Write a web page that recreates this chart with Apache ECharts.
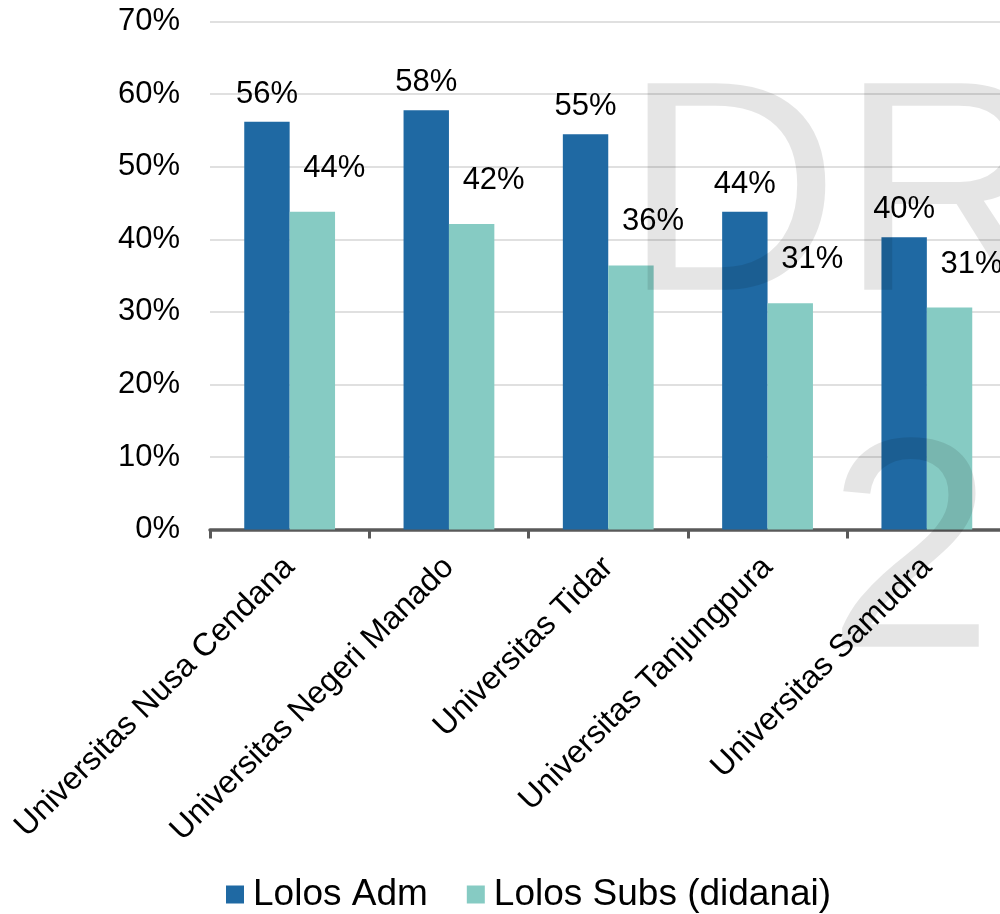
<!DOCTYPE html>
<html>
<head>
<meta charset="utf-8">
<script src="https://cdn.jsdelivr.net/npm/echarts@6/dist/echarts.min.js"></script>
<style>html,body{margin:0;padding:0;background:#fff;overflow:hidden;width:1000px;height:914px;}#c{width:1010px;height:914px;}</style>
</head>
<body>
<div id="c"></div>
<script>
var categories = ['Universitas Nusa Cendana', 'Universitas Negeri Manado', 'Universitas Tidar', 'Universitas Tanjungpura', 'Universitas Samudra'];
var seriesNames = ['Lolos Adm', 'Lolos Subs (didanai)'];
var lolosAdm = [56.2, 57.8, 54.5, 43.8, 40.3];
var lolosSubs = [43.8, 42.1, 36.4, 31.2, 30.6];
var yMin = 0, yMax = 70, yStep = 10;

var FONT = "'Liberation Sans', Arial, Helvetica, sans-serif";
var chart = echarts.init(document.getElementById('c'), null, {renderer: 'canvas'});
function pct(p) { return Math.round(p.value) + '%'; }
chart.setOption({
  animation: false,
  backgroundColor: '#fff',
  textStyle: {fontFamily: FONT},
  grid: {left: 210, top: 21.7, width: 796.5, height: 507.8, containLabel: false, outerBoundsMode: 'none'},
  legend: {
    data: seriesNames,
    left: 226, top: 876, padding: 0,
    icon: 'rect', itemWidth: 18, itemHeight: 18, itemGap: 39,
    textStyle: {fontSize: 37, color: '#000', fontFamily: FONT, padding: [0, 0, 0, 4]}
  },
  xAxis: {
    type: 'category',
    data: categories,
    axisLine: {lineStyle: {color: '#595959', width: 3.5}},
    axisTick: {show: true, length: 9, lineStyle: {color: '#595959', width: 3}, alignWithLabel: false},
    axisLabel: {rotate: 45, interval: 0, margin: 33, fontSize: 32, color: '#000', fontFamily: FONT}
  },
  yAxis: {
    type: 'value',
    min: yMin, max: yMax, interval: yStep,
    axisLine: {show: false}, axisTick: {show: false},
    splitLine: {lineStyle: {color: '#d6d6d6', width: 1.5}},
    axisLabel: {formatter: '{value}%', margin: 30, fontSize: 31, color: '#000', fontFamily: FONT}
  },
  series: [
    {
      name: seriesNames[0], type: 'bar', data: lolosAdm,
      barGap: '0%', barCategoryGap: '43%',
      itemStyle: {color: '#1f69a3'},
      label: {show: true, position: 'top', distance: 12, formatter: pct, fontSize: 31, color: '#000', fontFamily: FONT}
    },
    {
      name: seriesNames[1], type: 'bar', data: lolosSubs,
      barGap: '0%', barCategoryGap: '43%',
      itemStyle: {color: '#86cbc3'},
      label: {show: true, position: 'top', distance: 12, offset: [22, -16], formatter: pct, fontSize: 31, color: '#000', fontFamily: FONT}
    }
  ],
  graphic: [
    {type: 'text', z: 100, silent: true, style: {text: 'DR', x: 623, y: 207, fontSize: 300, fontFamily: FONT, fill: 'rgba(0,0,0,0.1)', verticalAlign: 'middle', align: 'left'}},
    {type: 'text', z: 100, silent: true, style: {text: '2', x: 827, y: 564, fontSize: 300, fontFamily: FONT, fill: 'rgba(0,0,0,0.1)', verticalAlign: 'middle', align: 'left'}}
  ]
});
</script>
</body>
</html>
